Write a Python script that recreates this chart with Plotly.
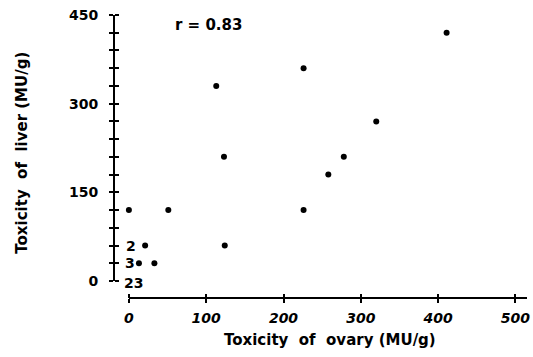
import plotly.graph_objects as go

# Data
ovary = [411, 226, 113, 320, 123, 278, 258, 0, 51, 226, 124, 21, 13, 33]
liver = [420, 360, 330, 270, 210, 210, 180, 120, 120, 120, 60, 60, 30, 30]

x_ticks = [0, 100, 200, 300, 400, 500]
y_ticks = list(range(0, 451, 30))
y_labels = [str(v) if v % 150 == 0 else "" for v in y_ticks]

# Count labels for overlapping points
count_text = ["2", "3", "23"]
count_x = [3, 1, 6.5]
count_y = [60, 30, 0]

FONT = "DejaVu Sans"
W, H = 533, 357
ml, mr, mt, mb = 114, 3, 15, 59
pw, ph = W - ml - mr, H - mt - mb

xdom = [15 / pw, 1]
ydom = [17 / ph, 1]
xr = [0, 515]
yr = [0, 450]

fig = go.Figure()
fig.add_trace(go.Scatter(
    x=ovary, y=liver, mode="markers",
    marker=dict(size=6, color="black"),
    cliponaxis=False, showlegend=False, hoverinfo="skip"))
fig.add_trace(go.Scatter(x=[None], y=[None], xaxis="x2", yaxis="y2",
                         showlegend=False, hoverinfo="skip"))

common = dict(anchor="free", position=0, showgrid=False, zeroline=False,
              tickcolor="black", tickwidth=1.5, ticklen=4, ticks="outside")

fig.update_layout(
    width=W, height=H,
    margin=dict(l=ml, r=mr, t=mt, b=mb),
    paper_bgcolor="white", plot_bgcolor="white",
    xaxis=dict(domain=xdom, range=xr, showline=True, linecolor="black", linewidth=2,
               tickvals=x_ticks, ticktext=[str(v) for v in x_ticks],
               ticklabelstandoff=3, ticklabeloverflow="allow",
               tickfont=dict(family=FONT, size=14, color="black", weight="bold", style="italic"),
               **common),
    xaxis2=dict(domain=xdom, range=xr, overlaying="x", side="top", showline=False,
                tickvals=x_ticks, showticklabels=False, **common),
    yaxis=dict(domain=ydom, range=yr, showline=True, linecolor="black", linewidth=2,
               tickvals=y_ticks, ticktext=y_labels,
               ticklabelstandoff=8, ticklabeloverflow="allow",
               tickfont=dict(family=FONT, size=14, color="black", weight="bold"),
               **common),
    yaxis2=dict(domain=ydom, range=yr, overlaying="y", side="right", showline=False,
                tickvals=y_ticks, showticklabels=False, **common),
)

def px_x(p):
    return (p - ml) / pw

def px_y(p):
    return (H - mb - p) / ph

annots = [
    dict(text="Toxicity\u00a0 of\u00a0 ovary\u00a0(MU/g)", x=px_x(332), y=px_y(340),
         font=dict(size=15)),
    dict(text="Toxicity\u00a0 of\u00a0 liver\u00a0(MU/g)", x=px_x(21), y=px_y(153),
         textangle=-90, font=dict(size=15)),
    dict(text="r\u00a0=\u00a00.83", x=px_x(209), y=px_y(25), font=dict(size=15)),
]
for a in annots:
    f = a.pop("font")
    fig.add_annotation(xref="paper", yref="paper", showarrow=False,
                       xanchor="center", yanchor="middle",
                       font=dict(family=FONT, color="black", weight="bold", **f), **a)

for t, xv, yv in zip(count_text, count_x, count_y):
    fig.add_annotation(x=xv, y=yv, text=t, showarrow=False, xanchor="center",
                       yanchor="middle", yshift=-2 if t == "23" else 0,
                       font=dict(family=FONT, size=14, color="black", weight="bold"))

fig.write_html("out.html")
